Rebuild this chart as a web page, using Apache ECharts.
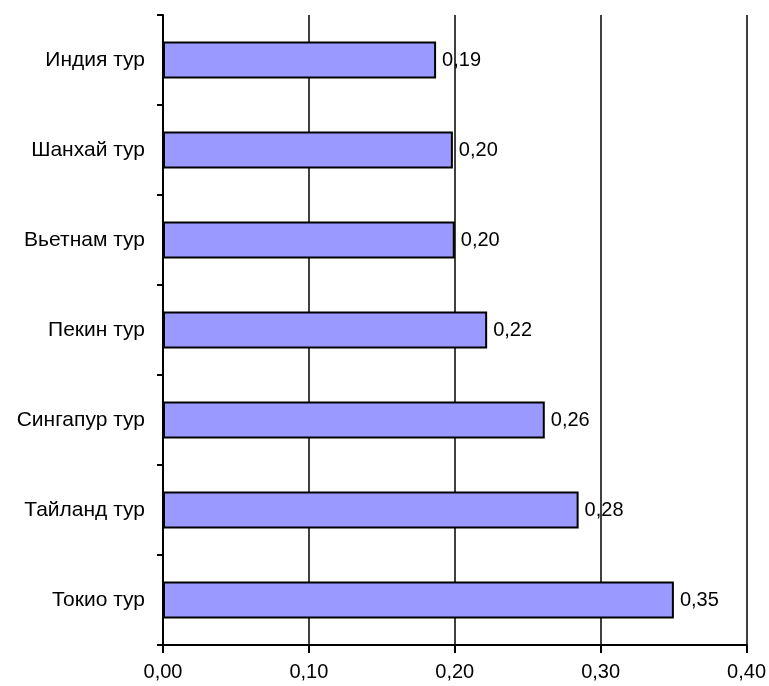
<!DOCTYPE html>
<html>
<head>
<meta charset="utf-8">
<script src="https://cdn.jsdelivr.net/npm/echarts@6/dist/echarts.min.js"></script>
<style>html,body{margin:0;padding:0;background:#fff}#c{width:769px;height:686px}</style>
</head>
<body>
<div id="c"></div>
<script>
// Categories listed top to bottom
const categories = ['Индия тур', 'Шанхай тур', 'Вьетнам тур', 'Пекин тур', 'Сингапур тур', 'Тайланд тур', 'Токио тур'];
const values = [0.1872, 0.1987, 0.2, 0.2222, 0.2617, 0.2849, 0.3502];
const xTicks = [0, 0.1, 0.2, 0.3, 0.4];

const fmt = v => v.toFixed(2).replace('.', ',');
const chart = echarts.init(document.getElementById('c'));
chart.setOption({
  animation: false,
  backgroundColor: '#fff',
  textStyle: { fontFamily: 'Liberation Sans, Arial, sans-serif' },
  grid: { left: 163, right: 22, top: 15, bottom: 41, containLabel: false },
  xAxis: {
    type: 'value', min: xTicks[0], max: xTicks[xTicks.length - 1], interval: 0.1,
    axisLine: { show: true, lineStyle: { color: '#000', width: 2 } },
    axisTick: { show: true, length: 8, lineStyle: { color: '#000', width: 2 } },
    axisLabel: { color: '#000', fontSize: 20, margin: 17, formatter: v => fmt(v) },
    splitLine: { show: true, lineStyle: { color: '#000', width: 1.5 } }
  },
  yAxis: {
    type: 'category', data: categories, inverse: true,
    axisLine: { show: true, lineStyle: { color: '#000', width: 2 } },
    axisTick: { show: true, length: 6, alignWithLabel: false, lineStyle: { color: '#000', width: 2 } },
    axisLabel: { color: '#000', fontSize: 21, margin: 18 },
    splitLine: { show: false }
  },
  series: [{
    type: 'bar', data: values, barWidth: 37,
    itemStyle: { color: '#9999FF', borderColor: '#000', borderWidth: 2 },
    label: { show: true, position: 'right', distance: 6, color: '#000', fontSize: 20, formatter: p => fmt(p.value) }
  }]
});
</script>
</body>
</html>
